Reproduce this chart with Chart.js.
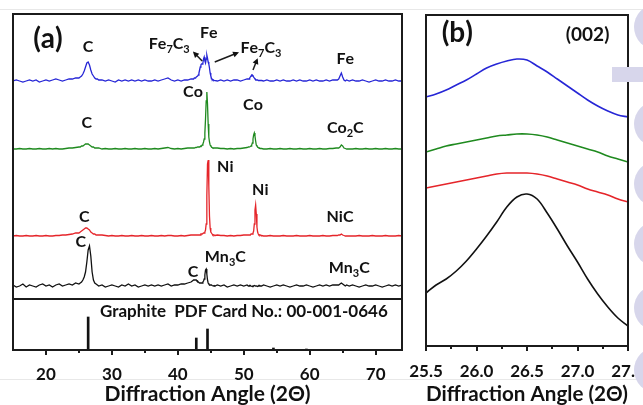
<!DOCTYPE html>
<html>
<head>
<meta charset="utf-8">
<script src="https://cdn.jsdelivr.net/npm/chart.js@4.4.0/dist/chart.umd.min.js"></script>
<style>
  html, body { margin: 0; padding: 0; background: #fff; overflow: hidden; }
  body { width: 643px; height: 405px; position: relative; }
  #wrapA { position: absolute; left: 0; top: 0; width: 405px; height: 405px; }
  #wrapB { position: absolute; left: 400px; top: 0; width: 260px; height: 405px; }
  .rule { position: absolute; left: 0; width: 643px; height: 1px; background: #e8e8e8; }
  .blob { position: absolute; left: 634px; width: 46px; height: 46px; border-radius: 50%; background: #d7d6eb; }
  .bar { position: absolute; left: 612px; top: 67px; width: 40px; height: 15px; background: #d7d6eb; }
</style>
</head>
<body>
<div class="rule" style="top:9px"></div>
<div class="rule" style="top:379px"></div>
<div id="wrapA"><canvas id="chartA" width="405" height="405"></canvas></div>
<div id="wrapB"><canvas id="chartB" width="260" height="405"></canvas></div>
<div class="blob" style="top:4px"></div>
<div class="blob" style="top:101px"></div>
<div class="blob" style="top:161px"></div>
<div class="blob" style="top:221px"></div>
<div class="blob" style="top:285px"></div>
<div class="blob" style="top:347px"></div>
<div class="bar"></div>
<script>
// ---- panel (a) data: 2θ grid shared by all four patterns ----
const angles = [
  15,15.5,16,16.5,17,17.5,18,18.5,19,19.5,20,20.5,21,21.5,22,22.5,23,23.5,24,24.5,
  25,25.2,25.4,25.6,25.8,26,26.2,26.4,26.6,26.8,27,27.2,27.4,27.6,27.8,28,
  28.5,29,29.5,30,30.5,31,31.5,32,32.5,33,33.5,34,34.5,35,35.5,36,36.5,37,37.5,38,38.5,39,39.5,40,40.5,41,41.5,42,
  42.2,42.3,42.4,42.5,42.6,42.7,42.8,42.9,43,43.1,43.2,43.3,43.4,43.5,43.6,43.7,43.8,43.9,44,44.1,44.2,44.3,44.4,44.5,44.6,44.7,44.8,44.9,45,45.1,45.2,45.3,45.4,45.5,45.6,
  46,46.5,47,47.5,48,48.5,49,49.5,50,50.5,
  50.7,50.8,50.9,51,51.1,51.2,51.3,51.4,51.5,51.6,51.7,51.8,51.9,52,52.1,52.2,52.3,52.4,52.5,52.6,52.7,
  53,53.5,54,54.5,55,55.5,56,56.5,57,57.5,58,58.5,59,59.5,60,60.5,61,61.5,62,62.5,63,63.5,64,
  64.2,64.4,64.6,64.8,65,65.2,65.4,65.6,
  66,66.5,67,67.5,68,68.5,69,69.5,70,70.5,71,71.5,72,72.5,73,73.5,74
];
const feTrace = [
  0,1,0,-1,0,1,0,1,-1,0,1,0,1,2,1,0,1,2,2,3,
  3,4,5,7,10,14,18,19,16,11,7,5,3,2,2,1,
  1,0,1,0,-1,1,0,1,0,1,0,1,0,1,0,0,1,0,1,2,3,1,0,1,0,1,1,2,
  2,2,2,3,3,3,4,4,5,6,8,11,14,16,17,17,18,22,24,20,18,22,26,23,19,17,13,8,5,3,2,1,1,0.5,0.5,
  0,1,0,1,0,1,1,0,1,2,
  2,2,3,4,5,6,6,5,4,3,2,1.5,1,1,1,0.5,0.5,0.5,0.5,0.5,0.5,
  0,1,0,0,1,0,1,0,0,1,0,1,0,0,1,0,1,0,0,1,0,1,1,
  1,2,5,8,4,1,0,1,
  0,1,0,0,1,0,-1,0,1,0,0,1,0,0,1,0,0
];
const coTrace = [
  0,0,0.5,0,0,0.5,0,0,0.5,0,0,0.5,0,0.5,0,0,0.5,1,1,1.5,
  2,2,3,3,4,5,5,5,4,3,2,2,1,1,1,1,
  0,0.5,0,0,0.5,0,0,0.5,0,0,0.5,0,0,0.5,0,0,0.5,0,0.5,1,1.5,0.5,0,0.5,0,0.5,1,1,
  1,1,1,1,1,1.5,1.5,1.5,2,2,2,2,2.5,3,3,4,5,7,10,16,30,48,57,45,25,12,7,4,3,2,1.5,1,1,1,1,
  1,0.5,0.5,0,0.5,0,0.5,0.5,1,1.5,
  2,2,2,2.5,3,4,6,10,14,16,13,8,4,3,2,1.5,1,1,0.5,0.5,0.5,
  0,0,0.5,0,0,0.5,0,0,0.5,0,0,0.5,0,0,0.5,0,0,0.5,0,0,0.5,0.5,1,
  1,1,2,4,3,1,0.5,0,
  0,0,0.5,0,0,0.5,0,0,0.5,0,0,0.5,0,0,0.5,0,0
];
const niTrace = [
  0,0.5,0,0,0.5,0,0,0.5,0,0,0.5,0,0,0.5,0.5,1,1,1.5,2,3,
  3,4,5,6,7,8,8,7,6,4,3,2,2,1,1,1,
  1,0.5,0,0.5,0,0,0.5,0,0,0.5,0,0,0.5,0,0,0.5,0,0,0.5,0,0.5,0.5,0,0,0.5,0,0.5,1,
  1,1,1,1,1,1,1,1,1,1,1,1,1,2,2,2,2,3,3,4,6,12,40,72,76,50,20,8,4,3,2,1,1,1,0.5,
  1,0.5,0.5,0,0.5,0,0.5,0.5,1,1,
  1,1,1,1,2,2,2,3,5,12,26,31,22,9,4,2,1,1,1,0.5,0.5,
  0,0,0.5,0,0,0,0.5,0,0,0,0.5,0,0,0,0.5,0,0,0,0.5,0,0,0.5,0.5,
  0.5,1,1,2,1,0.5,0,0,
  0,0,0,0.5,0,0,0,0.5,0,0,0,0.5,0,0,0,0.5,0
];
const mnTrace = [
  1,-1,0,2,-1,1,0,-1,1,2,0,1,-1,1,2,0,1,2,1,3,
  2,3,4,6,9,14,24,36,40,30,14,6,3,2,1,0,
  1,-1,0,1,0,-1,1,0,2,0,1,-1,0,1,0,1,0,1,0,1,2,0,1,1,2,2,3,4,
  5,5,6,6,6,6,6,5,5,4,4,3,3,3,3,3,4,5,7,11,16,17,12,6,3,2,1,1,1,1,0.5,0.5,0,0.5,0,
  1,0,1,-1,0,1,0,1,0,1,
  0,0,0.5,0.5,0,0,-0.5,0,0,0.5,0.5,0,0,0,-0.5,0,0.5,0.5,0,0,0,
  1,0,-1,0,1,0,1,0,-1,0,1,0,0,1,0,-1,0,1,0,1,0,1,1,
  1,1,2,3,2,1,0,1,
  0,1,0,-1,0,1,0,0,1,0,-1,0,1,0,1,0,1
];
// graphite reference card lines
const refAngles = [26.4, 42.8, 44.5, 54.5, 59.5];
const refHeights = [33, 12, 21, 2, 1];
const tickMarksA = [20, 25, 30, 35, 40, 45, 50, 55, 60, 65, 70];
const tickLabelsA = [20, 30, 40, 50, 60, 70];

// ---- panel (b) data: (002) reflection ----
const zoomAngles = [25.5,25.6,25.7,25.8,25.9,26,26.1,26.2,26.3,26.4,26.5,26.6,26.7,26.8,26.9,27,27.1,27.2,27.3,27.4,27.5];
const feZoom = [249,252,256,261,266,272,278,282,285,287,286,280,274,267,260,253,246,240,235,231,229];
const coZoom = [194,197,200,202,204,206,208,210,211,212,212,211,209,206,203,200,197,194,190,187,184];
const niZoom = [158,160,162,164,166,168,170,172,173,173,173,172,170,167,164,161,157,154,151,147,144];
const mnZoom = [53,61,67,75,85,97,110,124,139,149,152,147,133,117,100,84,67,52,39,28,20];
const tickMarksB = [25.5, 25.75, 26, 26.25, 26.5, 26.75, 27, 27.25, 27.5];
const tickLabelsB = ['25.5', '26.0', '26.5', '27.0', '27.5'];

const BLUE = '#2626d6', GREEN = '#1f8a1f', RED = '#e5252a', BLACK = '#111';
const FONT = 'Lato, "Open Sans", sans-serif';

// vertical stacking of the patterns in panel (a)
const stackOffset = { fe: 218, co: 150, ni: 63, mn: 13 };

function series(xs, ys, off) {
  return xs.map((x, i) => ({ x: x, y: ys[i] + off }));
}

// chemical label, "_n" = subscript digit
function drawChem(ctx, text, x, y, size) {
  const parts = [];
  for (let i = 0; i < text.length; i++) {
    if (text[i] === '_') { parts.push({ t: text[i + 1], sub: true }); i++; }
    else parts.push({ t: text[i], sub: false });
  }
  const big = 'bold ' + size + 'px ' + FONT;
  const small = 'bold ' + Math.round(size * 0.68) + 'px ' + FONT;
  let w = 0;
  parts.forEach(p => { ctx.font = p.sub ? small : big; p.w = ctx.measureText(p.t).width; w += p.w; });
  let cx = x - w / 2;
  ctx.textAlign = 'left';
  ctx.textBaseline = 'middle';
  parts.forEach(p => {
    ctx.font = p.sub ? small : big;
    ctx.fillText(p.t, cx, p.sub ? y + size * 0.32 : y);
    cx += p.w;
  });
}

const framePlugin = {
  id: 'frame',
  afterDatasetsDraw(chart, args, opts) {
    const { ctx, chartArea: a, scales: { x, y } } = chart;
    ctx.save();
    ctx.strokeStyle = '#1b1b1b';
    ctx.fillStyle = '#111';
    ctx.lineWidth = 2;
    ctx.strokeRect(a.left, a.top, a.width, a.height);
    if (opts.split !== undefined) {
      const sy = Math.round(y.getPixelForValue(opts.split));
      ctx.beginPath(); ctx.moveTo(a.left, sy); ctx.lineTo(a.right, sy); ctx.stroke();
    }
    // outward tick marks, long on labelled values
    x.ticks.forEach(t => {
      const px = Math.round(x.getPixelForValue(t.value));
      const len = t.label ? 5 : 3;
      ctx.beginPath(); ctx.moveTo(px, a.bottom); ctx.lineTo(px, a.bottom + len); ctx.stroke();
    });
    (opts.labels || []).forEach(l => {
      drawChem(ctx, l.text, x.getPixelForValue(l.x), y.getPixelForValue(l.y), l.size || 16);
    });
    (opts.plainText || []).forEach(l => {
      ctx.font = 'bold ' + l.size + 'px ' + FONT;
      ctx.textAlign = 'left'; ctx.textBaseline = 'middle';
      ctx.fillText(l.text, x.getPixelForValue(l.x), y.getPixelForValue(l.y));
    });
    ctx.lineWidth = 1.5;
    (opts.arrows || []).forEach(ar => {
      const x0 = x.getPixelForValue(ar.from[0]), y0 = y.getPixelForValue(ar.from[1]);
      const x1 = x.getPixelForValue(ar.to[0]), y1 = y.getPixelForValue(ar.to[1]);
      const ang = Math.atan2(y1 - y0, x1 - x0);
      ctx.beginPath(); ctx.moveTo(x0, y0); ctx.lineTo(x1, y1); ctx.stroke();
      ctx.beginPath();
      ctx.moveTo(x1 + 2 * Math.cos(ang), y1 + 2 * Math.sin(ang));
      ctx.lineTo(x1 - 4 * Math.cos(ang) + 3 * Math.sin(ang), y1 - 4 * Math.sin(ang) - 3 * Math.cos(ang));
      ctx.lineTo(x1 - 4 * Math.cos(ang) - 3 * Math.sin(ang), y1 - 4 * Math.sin(ang) + 3 * Math.cos(ang));
      ctx.closePath(); ctx.fill();
    });
    ctx.restore();
  }
};

const tickFont = { family: FONT, size: 17, weight: 'bold' };
const titleFont = { family: FONT, size: 21, weight: 'bold', lineHeight: 1 };

function lineSet(data, color, width) {
  return { type: 'line', data: data, borderColor: color, borderWidth: width, pointRadius: 0, tension: 0, fill: false };
}

// ---- panel (a) ----
new Chart(document.getElementById('chartA'), {
  type: 'line',
  data: {
    datasets: [
      lineSet(series(angles, feTrace, stackOffset.fe), BLUE, 1.3),
      lineSet(series(angles, coTrace, stackOffset.co), GREEN, 1.3),
      lineSet(series(angles, niTrace, stackOffset.ni), RED, 1.3),
      lineSet(series(angles, mnTrace, stackOffset.mn), BLACK, 1.3),
      {
        type: 'bar',
        data: refAngles.map((a, i) => ({ x: a, y: -51 + refHeights[i] })),
        base: -51,
        barThickness: 2,
        backgroundColor: BLACK
      }
    ]
  },
  options: {
    responsive: false,
    animation: false,
    devicePixelRatio: 1,
    layout: { padding: { left: 13, right: 3, top: 14, bottom: 0 } },
    plugins: {
      legend: { display: false },
      tooltip: { enabled: false },
      frame: {
        split: 0,
        labels: [
          { text: '(a)', x: 20.3, y: 260, size: 28 },
          { text: 'C', x: 26.4, y: 252 }, { text: 'Fe_7C_3', x: 38.7, y: 255 }, { text: 'Fe', x: 44.7, y: 266 },
          { text: 'Fe_7C_3', x: 52.6, y: 251 }, { text: 'Fe', x: 65.4, y: 240 },
          { text: 'C', x: 26.2, y: 176 }, { text: 'Co', x: 42.3, y: 207 }, { text: 'Co', x: 51.4, y: 194 },
          { text: 'Co_2C', x: 65.4, y: 171 },
          { text: 'Ni', x: 47.2, y: 132 }, { text: 'Ni', x: 52.5, y: 109 }, { text: 'C', x: 25.8, y: 82 },
          { text: 'NiC', x: 64.6, y: 82 },
          { text: 'C', x: 25.3, y: 57 }, { text: 'C', x: 42.3, y: 27 }, { text: 'Mn_3C', x: 47.2, y: 42 },
          { text: 'Mn_3C', x: 66.0, y: 31 }
        ],
        plainText: [{ text: 'Graphite  PDF Card No.: 00-001-0646', x: 28.2, y: -13, size: 17 }],
        arrows: [
          { from: [43.7, 238], to: [42.5, 246] },
          { from: [45.6, 237], to: [49.0, 246] },
          { from: [51.4, 229], to: [52.0, 239] }
        ]
      }
    },
    scales: {
      x: {
        type: 'linear', min: 15, max: 74, offset: false,
        afterBuildTicks: s => { s.ticks = tickMarksA.map(v => ({ value: v })); },
        afterFit: s => { s.height = 55; },
        ticks: {
          padding: 6, color: '#111', font: tickFont, autoSkip: false, maxRotation: 0,
          callback: v => tickLabelsA.includes(v) ? String(v) : ''
        },
        grid: { display: false },
        border: { display: false },
        title: { display: true, text: 'Diffraction Angle (2Θ)', color: '#111', font: titleFont, padding: { top: 0, bottom: 0 } }
      },
      y: { type: 'linear', min: -51, max: 285, display: false }
    }
  },
  plugins: [framePlugin]
});

// ---- panel (b) ----
new Chart(document.getElementById('chartB'), {
  type: 'line',
  data: {
    datasets: [
      lineSet(series(zoomAngles, feZoom, 0), BLUE, 1.6),
      lineSet(series(zoomAngles, coZoom, 0), GREEN, 1.6),
      lineSet(series(zoomAngles, niZoom, 0), RED, 1.6),
      lineSet(series(zoomAngles, mnZoom, 0), BLACK, 1.6)
    ].map(d => Object.assign(d, { tension: 0.35 }))
  },
  options: {
    responsive: false,
    animation: false,
    devicePixelRatio: 1,
    layout: { padding: { left: 26, right: 32, top: 15, bottom: 0 } },
    plugins: {
      legend: { display: false },
      tooltip: { enabled: false },
      frame: {
        labels: [
          { text: '(b)', x: 25.81, y: 313, size: 28 },
          { text: '(002)', x: 27.1, y: 311, size: 19 }
        ]
      }
    },
    scales: {
      x: {
        type: 'linear', min: 25.5, max: 27.5, offset: false,
        afterBuildTicks: s => { s.ticks = tickMarksB.map(v => ({ value: v })); },
        afterFit: s => { s.height = 59; },
        ticks: {
          padding: 7, color: '#111', font: tickFont, autoSkip: false, maxRotation: 0,
          callback: v => tickLabelsB.includes(v.toFixed(1)) && v * 2 === Math.round(v * 2) ? v.toFixed(1) : ''
        },
        grid: { display: false },
        border: { display: false },
        title: { display: true, text: 'Diffraction Angle (2Θ)', color: '#111', font: titleFont, padding: { top: 0, bottom: 0 } }
      },
      y: { type: 'linear', min: 0, max: 331, display: false }
    }
  },
  plugins: [framePlugin]
});
</script>
</body>
</html>
